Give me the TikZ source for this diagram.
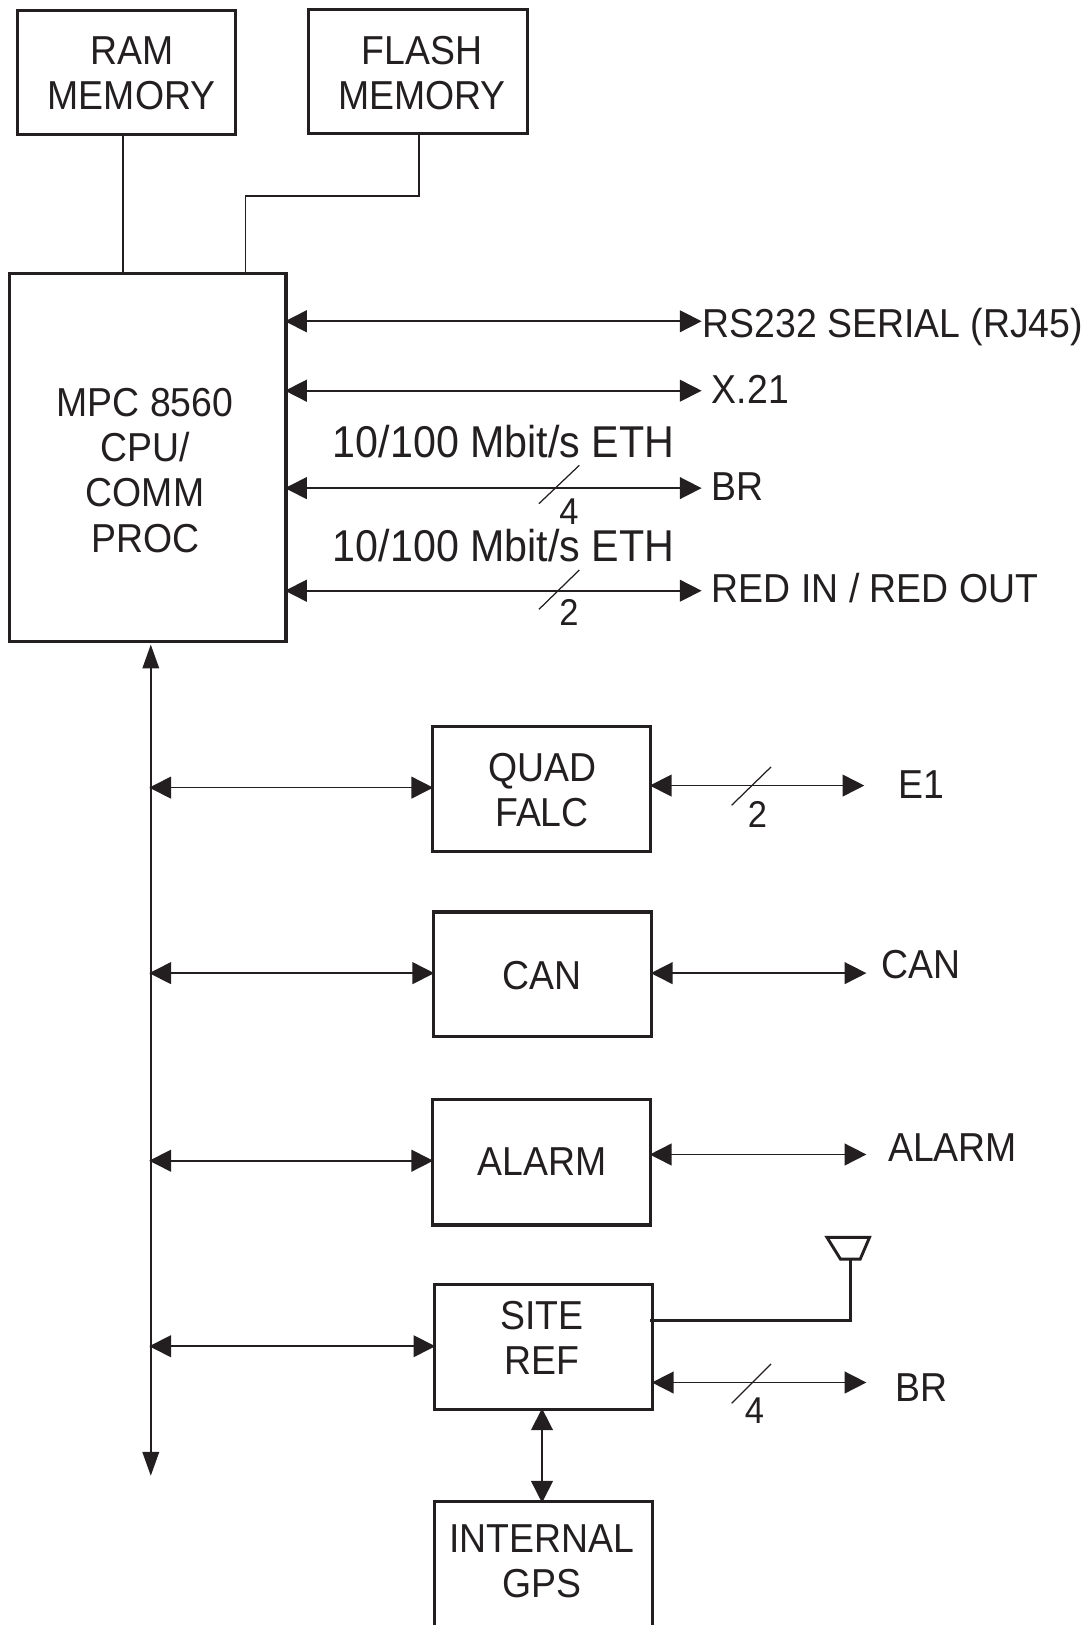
\documentclass[tikz,border=0pt]{standalone}
\usepackage{fontspec}
\setmainfont[FakeStretch=0.925]{Liberation Sans}
\usetikzlibrary{arrows.meta}
\definecolor{ink}{HTML}{231F20}
\tikzset{
  x=1pt,y=-1pt,
  every node/.style={text=ink,inner sep=0pt,outer sep=0pt},
  blockbox/.style={draw=ink,line width=3pt,align=center},
  blocktext/.style={align=center,font=\fontsize{39}{43.5}\selectfont},
  lab/.style={anchor=west,font=\fontsize{39}{43}\selectfont},
  big/.style={anchor=center,font=\fontsize{43}{48}\selectfont},
  num/.style={anchor=center,font=\fontsize{36}{40}\selectfont},
  wire/.style={draw=ink,line width=1.6pt},
  thick wire/.style={draw=ink,line width=2.8pt},
  slash/.style={draw=ink,line width=1.2pt},
  bi/.style={wire,{Triangle[length=21pt,width=21pt]}-{Triangle[length=21pt,width=21pt]},shorten <=-1pt,shorten >=-1pt},
  bus/.style={wire,{Triangle[length=23pt,width=16pt]}-{Triangle[length=23pt,width=16pt]}},
}
\begin{document}
\begin{tikzpicture}
\useasboundingbox (0,0) rectangle (1051,1568);
\clip (0,0) rectangle (1051,1568);
% blocks
\node[blockbox,minimum width=210pt,minimum height=120pt] (ram) at (122,70) {};
\node[blocktext] (ramt) at (127,70.5) {RAM\\MEMORY};
\node[blockbox,minimum width=211pt,minimum height=120pt] (flash) at (403.5,69) {};
\node[blocktext] (flasht) at (407,70.5) {FLASH\\MEMORY};
\node[blockbox,minimum width=267pt,minimum height=355pt] (mpc) at (142.5,441.5) {};
\node[blocktext] (mpct) at (140,454) {MPC 8560\\CPU/\\COMM\\PROC};
\node[blockbox,minimum width=211pt,minimum height=121pt] (falc) at (522.5,761.5) {};
\node[blocktext] (falct) at (523,762) {QUAD\\FALC};
\node[blockbox,minimum width=211pt,minimum height=120pt] (canb) at (523.5,940) {};
\node[blocktext] (cant) at (523,941) {CAN};
\node[blockbox,minimum width=211pt,minimum height=121pt] (alarm) at (522.5,1121.5) {};
\node[blocktext] (alarmt) at (523,1121) {ALARM};
\node[blockbox,minimum width=211pt,minimum height=121pt] (site) at (524.5,1299.5) {};
\node[blocktext] (sitet) at (523,1291) {SITE\\REF};
\node[blockbox,minimum width=211pt,minimum height=140pt] (gps) at (524.5,1519) {};
\node[blocktext] (gpst) at (523,1506.5) {INTERNAL\\GPS};
% memory links
\coordinate (ramtap) at (119,264);
\draw[wire] (ram.south -| ramtap) -- (mpc.north -| ramtap);
\coordinate (flashdrop) at (404,189);
\coordinate (flashin) at (237,189);
\draw[wire] (flash.south -| flashdrop) -- (flashdrop) -- (flashin) -- (mpc.north -| flashin);
% right-hand labels and links
\node[lab] (rs) at (678,316) {RS232 SERIAL (RJ45)};
\node[lab] (x21) at (687,376) {X.21};
\node[lab] (br1) at (687,470) {BR};
\node[lab] (red) at (687,567) {RED IN / RED OUT};
\node[big] (eth1) at (486,426) {10/100 Mbit/s ETH};
\node[big] (eth2) at (486,526) {10/100 Mbit/s ETH};
\node[num] (n4a) at (549,494) {4};
\node[num] (n2a) at (549,591) {2};
\coordinate (rsend) at (676,310);
\coordinate (x21end) at (676,377);
\coordinate (br1end) at (676,471);
\coordinate (redend) at (676,570);
\draw[bi] (mpc.east |- rsend) -- (rsend);
\draw[bi] (mpc.east |- x21end) -- (x21end);
\draw[bi] (mpc.east |- br1end) -- (br1end);
\draw[bi] (mpc.east |- redend) -- (redend);
\coordinate (s1a) at (520,486); \coordinate (s1b) at (559,449);
\coordinate (s2a) at (520,588); \coordinate (s2b) at (559,550);
\draw[slash] (s1a) -- (s1b);
\draw[slash] (s2a) -- (s2b);
% bus
\coordinate (bustop) at (145.5,622);
\coordinate (busbot) at (145.5,1424);
\draw[bus] (bustop) -- (busbot);
\coordinate (b1) at (145,760);
\coordinate (b2) at (145,939);
\coordinate (b3) at (145,1120);
\coordinate (b4) at (145,1299);
\draw[bi] (b1) -- (falc.west |- b1);
\draw[bi] (b2) -- (canb.west |- b2);
\draw[bi] (b3) -- (alarm.west |- b3);
\draw[bi] (b4) -- (site.west |- b4);
% lower right
\node[lab] (e1) at (867,757) {E1};
\node[lab] (canl) at (851,931) {CAN};
\node[lab] (alarml) at (857,1107) {ALARM};
\node[lab] (br2) at (864,1339) {BR};
\node[num] (n2b) at (731,786) {2};
\node[num] (n4b) at (728,1361) {4};
\coordinate (e1end) at (833,758);
\coordinate (canend) at (835,939);
\coordinate (alarmend) at (835,1114);
\coordinate (br2end) at (835,1334);
\draw[bi] (falc.east |- e1end) -- (e1end);
\draw[bi] (canb.east |- canend) -- (canend);
\draw[bi] (alarm.east |- alarmend) -- (alarmend);
\draw[bi] (site.east |- br2end) -- (br2end);
\coordinate (s3a) at (706,777); \coordinate (s3b) at (744,740);
\coordinate (s4a) at (706,1354); \coordinate (s4b) at (744,1316);
\draw[slash] (s3a) -- (s3b);
\draw[slash] (s4a) -- (s4b);
% antenna
\coordinate (antbase) at (821,1216);
\coordinate (antcorner) at (821,1274);
\draw[thick wire] (site.east |- antcorner) ++(-3,0) -- (antcorner) -- (antbase);
\coordinate (anta) at (798,1194); \coordinate (antb) at (839,1194);
\coordinate (antc) at (830,1215); \coordinate (antd) at (811,1215);
\draw[thick wire] (anta) -- (antb) -- (antc) -- (antd) -- cycle;
% GPS link
\draw[bi] (site.south -| gpst) -- (gps.north -| gpst);
\end{tikzpicture}
\end{document}
